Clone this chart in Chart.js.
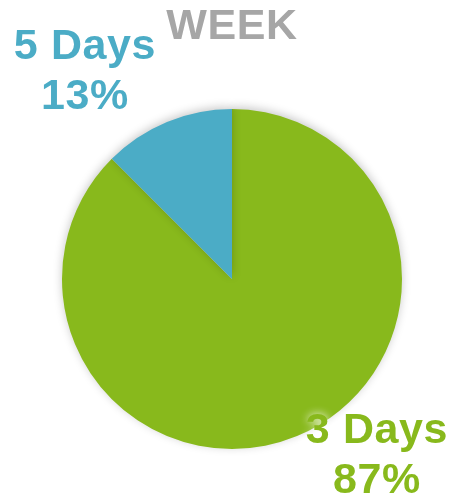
<!DOCTYPE html>
<html lang="en">
<head>
  <meta charset="UTF-8" />
  <title>Week</title>
  <script src="https://cdn.jsdelivr.net/npm/chart.js"></script>
  <style>
    body { margin: 0; background: #fff; }
  </style>
</head>
<body>
  <canvas id="pie" width="454" height="497"></canvas>
  <script>
    const chartTitle = 'WEEK';
    const categories = ['3 Days', '5 Days'];
    const shares = [87.5, 12.5];
    const shareLabels = ['87%', '13%'];
    const colours = ['#88b91c', '#4bacc6'];

    // where each label sits, relative to the pie centre
    const labelOffsets = [[145, 164], [-147, -220]];

    const shadowPlugin = {
      id: 'pieShadow',
      beforeDatasetsDraw(chart) {
        const ctx = chart.ctx;
        ctx.save();
        ctx.shadowColor = 'rgba(0,0,0,0.22)';
        ctx.shadowBlur = 10;
        ctx.shadowOffsetY = -2;
      },
      afterDatasetsDraw(chart) {
        chart.ctx.restore();
      }
    };

    const labelPlugin = {
      id: 'pieLabels',
      afterDraw(chart) {
        const ctx = chart.ctx;
        const arc = chart.getDatasetMeta(0).data[0];
        ctx.save();
        ctx.textAlign = 'center';
        ctx.textBaseline = 'alphabetic';
        ctx.font = 'bold 43px "Liberation Sans", Arial, sans-serif';
        ctx.letterSpacing = '0.6px';

        ctx.fillStyle = '#a6a6a6';
        ctx.fillText(chartTitle, 232, 39);

        categories.forEach((name, i) => {
          const x = arc.x + labelOffsets[i][0];
          const y = arc.y + labelOffsets[i][1];
          ctx.shadowColor = 'rgba(255,255,255,0.95)';
          ctx.shadowBlur = 8;
          ctx.fillStyle = colours[i];
          ctx.fillText(name, x, y);
          ctx.fillText(shareLabels[i], x, y + 50);
        });
        ctx.restore();
      }
    };

    new Chart(document.getElementById('pie'), {
      type: 'pie',
      data: {
        labels: categories,
        datasets: [{
          data: shares,
          backgroundColor: colours,
          borderWidth: 0
        }]
      },
      options: {
        responsive: false,
        animation: false,
        layout: { padding: { top: 109, bottom: 48, left: 62, right: 52 } },
        plugins: {
          legend: { display: false },
          tooltip: { enabled: false },
          title: { display: false }
        }
      },
      plugins: [shadowPlugin, labelPlugin]
    });
  </script>
</body>
</html>
